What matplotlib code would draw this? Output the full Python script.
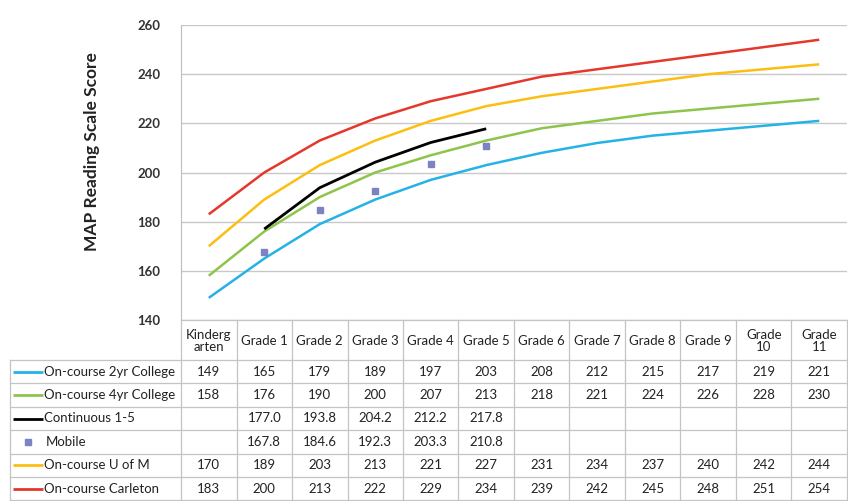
import numpy as np
import matplotlib
matplotlib.use("Agg")
import matplotlib.pyplot as plt

plt.rcParams['font.family'] = ['Lato', 'DejaVu Sans']

grades = ["Kinderg\narten", "Grade 1", "Grade 2", "Grade 3", "Grade 4", "Grade 5",
          "Grade 6", "Grade 7", "Grade 8", "Grade 9", "Grade\n10", "Grade\n11"]

two_yr = [149, 165, 179, 189, 197, 203, 208, 212, 215, 217, 219, 221]
four_yr = [158, 176, 190, 200, 207, 213, 218, 221, 224, 226, 228, 230]
continuous = [None, 177.0, 193.8, 204.2, 212.2, 217.8, None, None, None, None, None, None]
mobile = [None, 167.8, 184.6, 192.3, 203.3, 210.8, None, None, None, None, None, None]
u_of_m = [170, 189, 203, 213, 221, 227, 231, 234, 237, 240, 242, 244]
carleton = [183, 200, 213, 222, 229, 234, 239, 242, 245, 248, 251, 254]

# table rows in display order: label, values, colour, kind, decimals
rows = [
    ("On-course 2yr College", two_yr, "#25B2E6", "line", 0),
    ("On-course 4yr College", four_yr, "#8DC44A", "line", 0),
    ("Continuous 1-5", continuous, "#000000", "line", 1),
    ("Mobile", mobile, "#7C82C2", "marker", 1),
    ("On-course U of M", u_of_m, "#FDBE12", "line", 0),
    ("On-course Carleton", carleton, "#E5372B", "line", 0),
]

W, H = 848, 501
fig = plt.figure(figsize=(W / 100, H / 100), dpi=100)

# pixel layout
ax_left, ax_right, ax_top, ax_bottom = 181, 847, 25, 320
head_bottom = 360
row_h = 23.4
lab_left = 10

ax = fig.add_axes([ax_left / W, 1 - ax_bottom / H, (ax_right - ax_left) / W, (ax_bottom - ax_top) / H])
x = np.arange(len(grades))

for label, vals, color, kind, dec in rows:
    xs = [xi for xi, v in zip(x, vals) if v is not None]
    ys = [v for v in vals if v is not None]
    if kind == "line":
        lw = 2.0 if color == "#000000" else 1.8
        ax.plot(xs, ys, color=color, lw=lw, solid_capstyle='butt', zorder=3)
    else:
        ax.plot(xs, ys, ls='none', marker='s', ms=5, color=color, zorder=4)

ax.set_xlim(-0.5, len(grades) - 0.5)
ax.set_ylim(140, 260)
ax.set_yticks(range(140, 261, 20))
ax.set_xticks([])
ax.grid(axis='y', color='#C8C8C8', lw=1.0)
ax.set_axisbelow(True)
for s in ['top', 'right', 'bottom']:
    ax.spines[s].set_visible(False)
ax.spines['left'].set_color('#BDBDBD')
ax.tick_params(axis='y', length=0, pad=15, labelsize=9.5, labelcolor='#333333')
for t in ax.get_yticklabels():
    t.set_fontweight('bold')
ax.set_ylabel("MAP Reading Scale Score", fontsize=12.5, fontweight='bold', labelpad=20, color='#222222')
ax.yaxis.set_label_coords(-0.121, 0.57)

# overlay in pixel coordinates for the data table
tab = fig.add_axes([0, 0, 1, 1])
tab.set_xlim(0, W)
tab.set_ylim(H, 0)
tab.axis('off')

to_px = ax.transData.transform
edges = []
for i in range(len(grades) + 1):
    px = to_px((i - 0.5, 140))[0]
    edges.append(px)
centers = [(edges[i] + edges[i + 1]) / 2 for i in range(len(grades))]

line_kw = dict(color='#C4C4C4', lw=0.9)
table_bottom = head_bottom + row_h * len(rows)

# column separators
for e in edges:
    tab.plot([e, e], [ax_bottom, table_bottom], **line_kw)
tab.plot([lab_left, lab_left], [head_bottom, table_bottom], **line_kw)
tab.plot([edges[0], edges[-1]], [ax_bottom, ax_bottom], **line_kw)
for r in range(len(rows) + 1):
    y = head_bottom + r * row_h
    tab.plot([lab_left, edges[-1]], [y, y], **line_kw)

txt_kw = dict(fontsize=9.5, color='#222222', ha='center', va='center')
for c, g in zip(centers, grades):
    tab.text(c, (ax_bottom + head_bottom) / 2 + 1, g, linespacing=1.05, **txt_kw)

for r, (label, vals, color, kind, dec) in enumerate(rows):
    yc = head_bottom + (r + 0.5) * row_h
    if kind == "line":
        tab.plot([lab_left + 3, lab_left + 33], [yc, yc], color=color, lw=2.0, solid_capstyle='butt')
    else:
        tab.plot([lab_left + 18], [yc], ls='none', marker='s', ms=4.5, color=color)
    tab.text(lab_left + 34 if kind == "line" else lab_left + 36, yc, label,
             fontsize=9.5, color='#222222', ha='left', va='center')
    for c, v in zip(centers, vals):
        if v is None:
            continue
        s = f"{v:.{dec}f}"
        tab.text(c, yc, s, **txt_kw)

fig.savefig("out.png", dpi=100)
